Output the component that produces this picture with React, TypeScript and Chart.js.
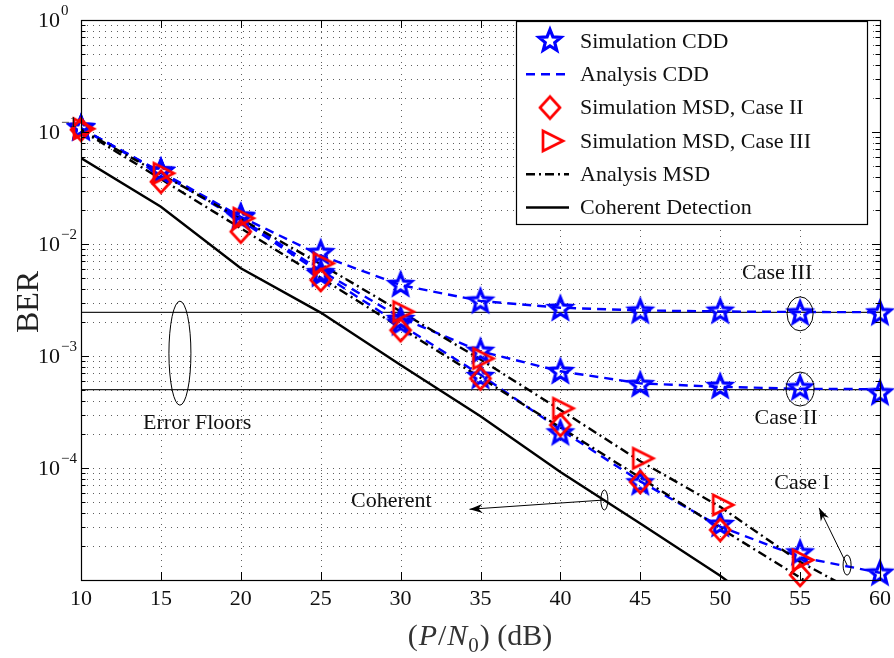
import { useEffect, useRef } from 'react';
import { Chart, registerables } from 'chart.js';
Chart.register(...registerables);

// ---------- data ----------
const snr = [10, 15, 20, 25, 30, 35, 40, 45, 50, 55, 60];
const snrMsd = [10, 15, 20, 25, 30, 35, 40, 45, 50, 55];

const simCddCaseI = [0.108, 0.044, 0.0172, 0.0053, 0.00195, 6.5e-4, 2.04e-4, 7.3e-5, 3.1e-5, 1.73e-5, 1.14e-5];
const simCddCaseII = [0.108, 0.044, 0.017, 0.0055, 0.0021, 1.09e-3, 7.2e-4, 5.5e-4, 5.3e-4, 5.14e-4, 4.64e-4];
const simCddCaseIII = [0.108, 0.0442, 0.0175, 0.0083, 0.0043, 3.06e-3, 2.63e-3, 2.49e-3, 2.49e-3, 2.4e-3, 2.4e-3];

const anaCddCaseI = [0.108, 0.043, 0.0162, 0.0055, 0.0019, 6.8e-4, 2.2e-4, 7.6e-5, 3.0e-5, 1.6e-5, 1.16e-5];
const anaCddCaseII = [0.108, 0.0435, 0.0168, 0.0058, 0.0022, 1.1e-3, 7.3e-4, 5.7e-4, 5.3e-4, 5.1e-4, 5.05e-4];
const anaCddCaseIII = [0.108, 0.044, 0.0175, 0.0079, 0.0043, 3.1e-3, 2.7e-3, 2.55e-3, 2.5e-3, 2.47e-3, 2.46e-3];

const simMsdCaseII = [0.105, 0.036, 0.0129, 0.00477, 0.0017, 6.3e-4, 2.42e-4, 7.5e-5, 2.8e-5, 1.11e-5];
const simMsdCaseIII = [0.107, 0.0428, 0.017, 0.00672, 0.00249, 9.5e-4, 3.41e-4, 1.22e-4, 4.68e-5, 1.51e-5];

const anaMsdCaseII = [0.104, 0.038, 0.0138, 0.005, 0.00178, 6.4e-4, 2.3e-4, 8.2e-5, 2.9e-5, 1.05e-5, 3.7e-6];
const anaMsdCaseIII = [0.105, 0.042, 0.0168, 0.0066, 0.0025, 9.3e-4, 3.3e-4, 1.15e-4, 4.5e-5, 1.45e-5, 6e-6];

const coherent = [0.0586, 0.0215, 0.00607, 0.00244, 8.3e-4, 2.9e-4, 9.2e-5, 3.2e-5, 1.09e-5, 3.3e-6];

const errorFloors = [2.45e-3, 5e-4];
const floorSpan = [10, 60];

const xTickValues = [10, 15, 20, 25, 30, 35, 40, 45, 50, 55, 60];
const xTickLabels = ['10', '15', '20', '25', '30', '35', '40', '45', '50', '55', '60'];
const yTickValues = [1, 1e-1, 1e-2, 1e-3, 1e-4];
const yTickExponents = ['0', '\u22121', '\u22122', '\u22123', '\u22124'];

const legendLabels = [
  'Simulation CDD',
  'Analysis CDD',
  'Simulation MSD, Case II',
  'Simulation MSD, Case III',
  'Analysis MSD',
  'Coherent Detection',
];

// text annotations in data coordinates
const textNotes = [
  { text: 'Case III', x: 53.56, y: 5.5e-3 },
  { text: 'Case II', x: 54.12, y: 2.79e-4 },
  { text: 'Case I', x: 55.12, y: 7.35e-5 },
  { text: 'Error Floors', x: 17.27, y: 2.5e-4 },
  { text: 'Coherent', x: 29.42, y: 5.0e-5 },
];
const ellipseNotes = [
  { x: 16.19, y: 1.06e-3, rx: 11, ry: 52 },
  { x: 55, y: 2.38e-3, rx: 13, ry: 17 },
  { x: 55, y: 5.07e-4, rx: 14, ry: 17 },
  { x: 57.94, y: 1.36e-5, rx: 4, ry: 10 },
  { x: 42.75, y: 5.18e-5, rx: 3.5, ry: 10 },
];
const arrowNotes = [
  { x0: 57.94, y0: 1.36e-5, x1: 56.19, y1: 4.4e-5 },
  { x0: 42.75, y0: 5.18e-5, x1: 34.31, y1: 4.28e-5 },
];

const BLUE = '#0000ff';
const RED = '#ff0000';
const FONT = '"Liberation Serif", "DejaVu Serif", serif';

function toPts(xs: number[], ys: number[]) {
  return ys.map((y, i) => ({ x: xs[i], y }));
}

function makeMarker(kind: 'star' | 'diamond' | 'tri'): HTMLCanvasElement {
  const c = document.createElement('canvas');
  c.width = 36;
  c.height = 36;
  const g = c.getContext('2d')!;
  g.translate(18, 18);
  g.lineJoin = 'miter';
  g.beginPath();
  if (kind === 'star') {
    g.strokeStyle = BLUE;
    g.lineWidth = 3.2;
    const R = 11.5, r = 5;
    for (let i = 0; i < 10; i++) {
      const a = -Math.PI / 2 + (i * Math.PI) / 5;
      const rr = i % 2 === 0 ? R : r;
      const px = Math.cos(a) * rr, py = Math.sin(a) * rr;
      if (i === 0) g.moveTo(px, py); else g.lineTo(px, py);
    }
  } else if (kind === 'diamond') {
    g.strokeStyle = RED;
    g.lineWidth = 2.7;
    g.moveTo(0, -11); g.lineTo(10, 0); g.lineTo(0, 11); g.lineTo(-10, 0);
  } else {
    g.strokeStyle = RED;
    g.lineWidth = 2.7;
    g.moveTo(-7, -10); g.lineTo(13, 0); g.lineTo(-7, 10);
  }
  g.closePath();
  g.stroke();
  return c;
}

export default function App() {
  const ref = useRef<HTMLCanvasElement>(null);
  useEffect(() => {
    const star = makeMarker('star');
    const diamond = makeMarker('diamond');
    const tri = makeMarker('tri');

    const cddDash = [9, 6];
    const msdDash = [9, 4, 2, 4];

    const pointSet = (label: string, xs: number[], ys: number[], img: HTMLCanvasElement) => ({
      label, data: toPts(xs, ys), showLine: false, pointStyle: img as any, pointRadius: 10,
      borderColor: 'transparent', backgroundColor: 'transparent', clip: false as any,
    });
    const lineSet = (label: string, xs: number[], ys: number[], color: string, dash: number[], w = 2.4) => ({
      label, data: toPts(xs, ys), showLine: true, borderColor: color, borderWidth: w, borderDash: dash,
      pointRadius: 0, tension: 0, fill: false,
    });

    const datasets: any[] = [
      pointSet('Simulation MSD, Case III', snrMsd, simMsdCaseIII, tri),
      pointSet('Simulation MSD, Case II', snrMsd, simMsdCaseII, diamond),
      pointSet('Simulation CDD I', snr, simCddCaseI, star),
      pointSet('Simulation CDD II', snr, simCddCaseII, star),
      pointSet('Simulation CDD III', snr, simCddCaseIII, star),
      lineSet('Analysis MSD II', snr, anaMsdCaseII, '#000', msdDash),
      lineSet('Analysis MSD III', snr, anaMsdCaseIII, '#000', msdDash),
      lineSet('Analysis CDD I', snr, anaCddCaseI, BLUE, cddDash),
      lineSet('Analysis CDD II', snr, anaCddCaseII, BLUE, cddDash),
      lineSet('Analysis CDD III', snr, anaCddCaseIII, BLUE, cddDash),
      lineSet('Coherent Detection', snrMsd, coherent, '#000', [], 2.4),
      ...errorFloors.map((f, i) =>
        lineSet('Floor ' + i, floorSpan, floorSpan.map(() => f), '#222', [], 1.3)),
    ];

    const custom = {
      id: 'custom',
      beforeDatasetsDraw(chart: any) {
        const { ctx, chartArea: a, scales } = chart;
        const xs = scales.x, ys = scales.y;
        ctx.save();
        ctx.strokeStyle = 'rgba(40,40,40,0.75)';
        ctx.lineWidth = 1;
        ctx.setLineDash([1, 5]);
        xTickValues.forEach((v) => {
          const px = Math.round(xs.getPixelForValue(v)) + 0.5;
          if (px <= a.left + 1 || px >= a.right - 1) return;
          ctx.beginPath(); ctx.moveTo(px, a.top); ctx.lineTo(px, a.bottom); ctx.stroke();
        });
        for (let e = -5; e <= -1; e++) {
          for (let m = 1; m <= 9; m++) {
            const v = m * Math.pow(10, e);
            const py = Math.round(ys.getPixelForValue(v)) + 0.5;
            if (py >= a.bottom - 1 || py <= a.top + 1) continue;
            ctx.beginPath(); ctx.moveTo(a.left, py); ctx.lineTo(a.right, py); ctx.stroke();
          }
        }
        ctx.restore();
      },
      afterDraw(chart: any) {
        const { ctx, chartArea: a, scales } = chart;
        const xs = scales.x, ys = scales.y;
        ctx.save();
        // box
        ctx.setLineDash([]);
        ctx.strokeStyle = '#000';
        ctx.lineWidth = 1.2;
        ctx.strokeRect(Math.round(a.left) + 0.5, Math.round(a.top) + 0.5, Math.round(a.right - a.left), Math.round(a.bottom - a.top));
        // ticks
        ctx.lineWidth = 1;
        xTickValues.forEach((v) => {
          const px = Math.round(xs.getPixelForValue(v)) + 0.5;
          ctx.beginPath();
          ctx.moveTo(px, a.bottom); ctx.lineTo(px, a.bottom - 8);
          ctx.moveTo(px, a.top); ctx.lineTo(px, a.top + 8);
          ctx.stroke();
        });
        for (let e = -5; e <= 0; e++) {
          for (let m = 1; m <= 9; m++) {
            if (e === 0 && m > 1) break;
            const v = m * Math.pow(10, e);
            const py = Math.round(ys.getPixelForValue(v)) + 0.5;
            const len = m === 1 ? 8 : 4.5;
            ctx.beginPath();
            ctx.moveTo(a.left, py); ctx.lineTo(a.left + len, py);
            ctx.moveTo(a.right, py); ctx.lineTo(a.right - len, py);
            ctx.stroke();
          }
        }
        // tick labels
        ctx.fillStyle = '#111';
        ctx.font = `22px ${FONT}`;
        ctx.textAlign = 'center';
        ctx.textBaseline = 'middle';
        xTickValues.forEach((v, i) => {
          ctx.fillText(xTickLabels[i], xs.getPixelForValue(v), a.bottom + 19);
        });
        yTickValues.forEach((v, i) => {
          const py = ys.getPixelForValue(v);
          ctx.font = `22px ${FONT}`;
          ctx.textAlign = 'left';
          ctx.fillText('10', 38, py + 1);
          const w = ctx.measureText('10').width;
          ctx.font = `15px ${FONT}`;
          ctx.fillText(yTickExponents[i], 38 + w + 1, py - 9);
        });
        // axis titles
        ctx.save();
        ctx.translate(30, (a.top + a.bottom) / 2 + 2);
        ctx.rotate(-Math.PI / 2);
        ctx.font = `32px ${FONT}`;
        ctx.textAlign = 'center';
        ctx.fillStyle = '#222';
        ctx.fillText('BER', 0, 0);
        ctx.restore();
        {
          const parts = [
            { t: '(', f: `30px ${FONT}`, dy: 0 },
            { t: 'P', f: `italic 30px ${FONT}`, dy: 0 },
            { t: '/', f: `30px ${FONT}`, dy: 0 },
            { t: 'N', f: `italic 30px ${FONT}`, dy: 0 },
            { t: '0', f: `21px ${FONT}`, dy: 7 },
            { t: ') (dB)', f: `30px ${FONT}`, dy: 0 },
          ];
          let total = 0;
          parts.forEach((p) => { ctx.font = p.f; total += ctx.measureText(p.t).width + 1; });
          let cx = (a.left + a.right) / 2 - total / 2;
          ctx.textAlign = 'left';
          ctx.textBaseline = 'alphabetic';
          ctx.fillStyle = '#333';
          parts.forEach((p) => {
            ctx.font = p.f;
            ctx.fillText(p.t, cx, 645 + p.dy);
            cx += ctx.measureText(p.t).width + 1;
          });
        }
        // annotations
        ctx.fillStyle = '#111';
        ctx.font = `22px ${FONT}`;
        ctx.textAlign = 'center';
        ctx.textBaseline = 'middle';
        textNotes.forEach((n) => ctx.fillText(n.text, xs.getPixelForValue(n.x), ys.getPixelForValue(n.y)));
        ctx.lineWidth = 1;
        ctx.strokeStyle = '#000';
        ellipseNotes.forEach((n) => {
          ctx.beginPath();
          ctx.ellipse(xs.getPixelForValue(n.x), ys.getPixelForValue(n.y), n.rx, n.ry, 0, 0, Math.PI * 2);
          ctx.stroke();
        });
        arrowNotes.forEach((n) => {
          const x0 = xs.getPixelForValue(n.x0), y0 = ys.getPixelForValue(n.y0);
          const x1 = xs.getPixelForValue(n.x1), y1 = ys.getPixelForValue(n.y1);
          ctx.beginPath(); ctx.moveTo(x0, y0); ctx.lineTo(x1, y1); ctx.stroke();
          const ang = Math.atan2(y1 - y0, x1 - x0);
          const L = 13, W = 4.5;
          const bx = x1 - Math.cos(ang) * L, by = y1 - Math.sin(ang) * L;
          const nx = -Math.sin(ang), ny = Math.cos(ang);
          const mx = x1 - Math.cos(ang) * L * 0.7, my = y1 - Math.sin(ang) * L * 0.7;
          ctx.beginPath();
          ctx.moveTo(x1, y1);
          ctx.lineTo(bx + nx * W, by + ny * W);
          ctx.lineTo(mx, my);
          ctx.lineTo(bx - nx * W, by - ny * W);
          ctx.closePath();
          ctx.fillStyle = '#000';
          ctx.fill();
        });
        // legend
        const lx = a.right - 364, ly = a.top + 1, lw = 351, lh = 203;
        ctx.fillStyle = '#fff';
        ctx.fillRect(lx, ly, lw, lh);
        ctx.strokeStyle = '#000';
        ctx.lineWidth = 1.2;
        ctx.strokeRect(Math.round(lx) + 0.5, Math.round(ly) + 0.5, lw, lh);
        legendLabels.forEach((label, i) => {
          const cy = ly + 20 + i * 33.3;
          const mx = lx + 34;
          ctx.setLineDash([]);
          if (i === 0) ctx.drawImage(star, mx - 18, cy - 18);
          if (i === 2) ctx.drawImage(diamond, mx - 18, cy - 18);
          if (i === 3) ctx.drawImage(tri, mx - 18, cy - 18);
          if (i === 1 || i === 4 || i === 5) {
            ctx.lineWidth = 2.4;
            ctx.strokeStyle = i === 1 ? BLUE : '#000';
            ctx.setLineDash(i === 1 ? cddDash : i === 4 ? msdDash : []);
            ctx.beginPath(); ctx.moveTo(lx + 10, cy); ctx.lineTo(lx + 53, cy); ctx.stroke();
            ctx.setLineDash([]);
          }
          ctx.fillStyle = '#111';
          ctx.font = `22px ${FONT}`;
          ctx.textAlign = 'left';
          ctx.textBaseline = 'middle';
          ctx.fillText(label, lx + 64, cy + 1);
        });
        ctx.restore();
      },
    };

    const chart = new Chart(ref.current!, {
      type: 'line',
      data: { datasets },
      options: {
        animation: false,
        responsive: false,
        events: [],
        layout: { padding: { top: 20, right: 14, left: 0, bottom: 0 }, autoPadding: false },
        plugins: { legend: { display: false }, tooltip: { enabled: false } },
        scales: {
          x: {
            type: 'linear', min: 10, max: 60,
            ticks: { display: false, stepSize: 5 },
            grid: { display: false }, border: { display: false },
            afterFit: (s: any) => { s.height = 78; },
          },
          y: {
            type: 'logarithmic', min: 1e-5, max: 1,
            ticks: { display: false },
            grid: { display: false }, border: { display: false },
            afterFit: (s: any) => { s.width = 81; },
          },
        },
      } as any,
      plugins: [custom],
    });
    return () => chart.destroy();
  }, []);

  return (
    <div style={{ position: 'absolute', left: 0, top: 0, width: 894, height: 658, background: '#fff' }}>
      <canvas ref={ref} width={894} height={658} />
    </div>
  );
}
